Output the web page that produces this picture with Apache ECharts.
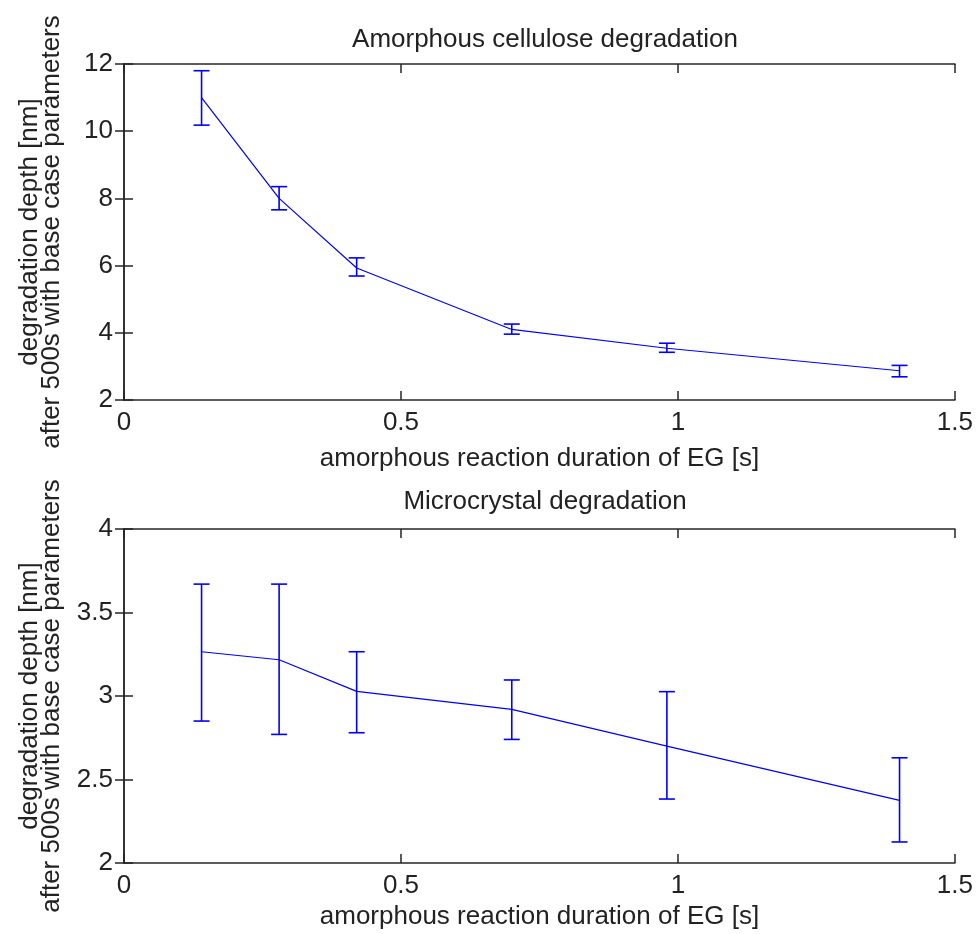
<!DOCTYPE html>
<html>
<head>
<meta charset="utf-8">
<script src="https://cdn.jsdelivr.net/npm/echarts@6/dist/echarts.min.js"></script>
<style>
  html, body { margin: 0; padding: 0; background: #fff; }
  #chart { width: 976px; height: 934px; }
</style>
</head>
<body>
<div id="chart"></div>
<script>
// durations [s]
const durations = [0.14, 0.28, 0.42, 0.70, 0.98, 1.40];

// amorphous cellulose degradation depth [nm]
const amorphMean = [11.0, 8.0, 5.93, 4.1, 3.54, 2.87];
const amorphLow  = [10.18, 7.66, 5.69, 3.96, 3.42, 2.69];
const amorphHigh = [11.8, 8.35, 6.23, 4.26, 3.69, 3.03];

// microcrystal degradation depth [nm]
const crystalMean = [3.265, 3.217, 3.028, 2.92, 2.70, 2.375];
const crystalLow  = [2.85, 2.77, 2.78, 2.74, 2.383, 2.126];
const crystalHigh = [3.67, 3.67, 3.265, 3.096, 3.026, 2.63];

const xTicks = [0, 0.5, 1, 1.5];
const yTicksTop = [2, 4, 6, 8, 10, 12];
const yTicksBottom = [2, 2.5, 3, 3.5, 4];

const titles = ['Amorphous cellulose degradation', 'Microcrystal degradation'];
const xName = 'amorphous reaction duration of EG [s]';
const yName = 'degradation depth [nm]\nafter 500s with base case parameters';

const FONT = '"Liberation Sans", Arial, sans-serif';
const FS = 26;
const AX = '#262626';
const BLUE = '#0000ff';

const chart = echarts.init(document.getElementById('chart'));

// error bar: vertical line with caps
function errRender(params, api) {
    const x = api.value(0);
    const lo = api.coord([x, api.value(1)]);
    const hi = api.coord([x, api.value(2)]);
    const w = 8;
    const st = { stroke: BLUE, lineWidth: 1.6 };
    return {
        type: 'group',
        children: [
            { type: 'line', shape: { x1: lo[0], y1: lo[1], x2: hi[0], y2: hi[1] }, style: st },
            { type: 'line', shape: { x1: lo[0] - w, y1: lo[1], x2: lo[0] + w, y2: lo[1] }, style: st },
            { type: 'line', shape: { x1: hi[0] - w, y1: hi[1], x2: hi[0] + w, y2: hi[1] }, style: st }
        ]
    };
}

const axLine = { show: true, lineStyle: { color: AX, width: 1.5 } };
const axTick = { show: true, inside: true, length: 9, lineStyle: { color: AX, width: 1.5 } };
const lbl = { color: '#222', fontFamily: FONT, fontSize: FS };

function xAxes(gi, gap) {
    return [
        {
            type: 'value', gridIndex: gi, min: 0, max: 1.5, interval: 0.5, position: 'bottom',
            axisLine: axLine, axisTick: axTick, splitLine: { show: false },
            axisLabel: Object.assign({ margin: 10, formatter: v => xTicks.includes(v) ? String(v) : '' }, lbl),
            name: xName, nameLocation: 'middle', nameGap: gap, nameTextStyle: lbl
        },
        {
            type: 'value', gridIndex: gi, min: 0, max: 1.5, interval: 0.5, position: 'top',
            axisLine: axLine, axisTick: axTick, splitLine: { show: false }, axisLabel: { show: false }
        }
    ];
}

function yAxes(gi, min, max, interval, ticks) {
    return [
        {
            type: 'value', gridIndex: gi, min: min, max: max, interval: interval, position: 'left',
            axisLine: axLine, axisTick: axTick, splitLine: { show: false },
            axisLabel: Object.assign({ margin: 11, formatter: v => ticks.includes(v) ? String(v) : '' }, lbl),
            name: yName, nameLocation: 'middle', nameGap: 61,
            nameTextStyle: Object.assign({ lineHeight: 22 }, lbl)
        },
        {
            type: 'value', gridIndex: gi, min: min, max: max, interval: interval, position: 'right',
            axisLine: axLine, axisTick: axTick, splitLine: { show: false }, axisLabel: { show: false }
        }
    ];
}

const titleStyle = { color: '#222', fontFamily: FONT, fontSize: FS, fontWeight: 'normal' };

const option = {
    backgroundColor: '#fff',
    animation: false,
    title: [
        { text: titles[0], left: 540, top: 22, textAlign: 'center', textStyle: titleStyle },
        { text: titles[1], left: 540, top: 484, textAlign: 'center', textStyle: titleStyle }
    ],
    grid: [
        { left: 124, top: 64, width: 831, height: 336 },
        { left: 124, top: 529, width: 831, height: 334 }
    ],
    xAxis: [].concat(xAxes(0, 46), xAxes(1, 41)),
    yAxis: [].concat(yAxes(0, 2, 12, 2, yTicksTop), yAxes(1, 2, 4, 0.5, yTicksBottom)),
    series: [
        {
            type: 'line', xAxisIndex: 0, yAxisIndex: 0, showSymbol: false,
            lineStyle: { color: BLUE, width: 1.2 },
            data: durations.map((d, i) => [d, amorphMean[i]])
        },
        {
            type: 'custom', xAxisIndex: 0, yAxisIndex: 0, renderItem: errRender,
            data: durations.map((d, i) => [d, amorphLow[i], amorphHigh[i]])
        },
        {
            type: 'line', xAxisIndex: 2, yAxisIndex: 2, showSymbol: false,
            lineStyle: { color: BLUE, width: 1.2 },
            data: durations.map((d, i) => [d, crystalMean[i]])
        },
        {
            type: 'custom', xAxisIndex: 2, yAxisIndex: 2, renderItem: errRender,
            data: durations.map((d, i) => [d, crystalLow[i], crystalHigh[i]])
        }
    ]
};

chart.setOption(option);
</script>
</body>
</html>
